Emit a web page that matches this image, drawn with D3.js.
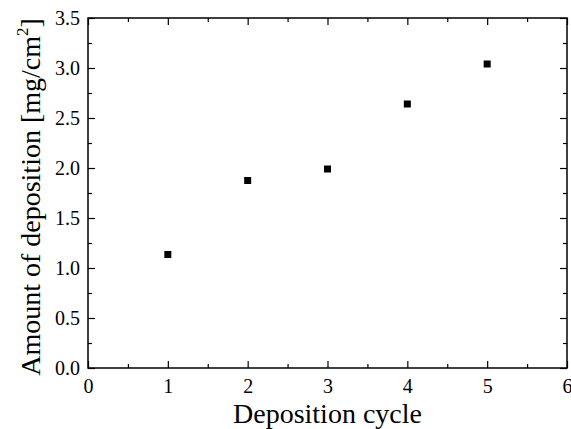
<!DOCTYPE html>
<html>
<head>
<meta charset="utf-8">
<script src="https://cdn.jsdelivr.net/npm/d3@7"></script>
<style>
  html, body { margin: 0; padding: 0; background: #fff; }
  svg, svg text { font-family: "Liberation Serif", "Times New Roman", serif !important; }
</style>
</head>
<body>
<div id="chart"></div>
<script>
// Deposition amount per cycle
const cycles = [1, 2, 3, 4, 5];
const deposition = [1.135, 1.875, 1.99, 2.64, 3.04];
const xTicks = [0, 1, 2, 3, 4, 5, 6];
const yTicks = [0.0, 0.5, 1.0, 1.5, 2.0, 2.5, 3.0, 3.5];

const FONT = '"Liberation Serif", "Times New Roman", serif';
const width = 571, height = 429;
const margin = { top: 18, right: 4, bottom: 61, left: 88 };
const innerW = width - margin.left - margin.right;
const innerH = height - margin.top - margin.bottom;

const svg = d3.select('#chart').append('svg')
  .attr('width', width)
  .attr('height', height)
  .style('font-family', FONT);

const g = svg.append('g').attr('transform', `translate(${margin.left},${margin.top})`);

const x = d3.scaleLinear().domain([0, 6]).range([0, innerW]);
const y = d3.scaleLinear().domain([0, 3.5]).range([innerH, 0]);

// minor ticks halfway between majors
const xMinor = d3.range(0.5, 6, 1);
const yMinor = d3.range(0.25, 3.5, 0.5);

function styleAxis(sel) {
  sel.style('font-family', FONT).style('font-size', '20px');
  sel.select('.domain').remove();
  sel.selectAll('line').attr('stroke', '#000').attr('stroke-width', 1.2);
  sel.selectAll('text')
    .attr('fill', '#000')
    .style('font-family', FONT)
    .style('font-size', '20px');
}

// bottom axis with labels
g.append('g')
  .attr('transform', `translate(0,${innerH})`)
  .call(d3.axisBottom(x).tickValues(xTicks).tickSize(-7).tickPadding(11).tickFormat(d3.format('d')))
  .call(styleAxis);
g.append('g').attr('transform', `translate(0,${innerH})`)
  .call(d3.axisBottom(x).tickValues(xMinor).tickSize(-4).tickFormat(''))
  .call(styleAxis);

// top mirror ticks
g.append('g').call(d3.axisTop(x).tickValues(xTicks).tickSize(-7).tickFormat('')).call(styleAxis);
g.append('g').call(d3.axisTop(x).tickValues(xMinor).tickSize(-4).tickFormat('')).call(styleAxis);

// left axis with labels
g.append('g')
  .call(d3.axisLeft(y).tickValues(yTicks).tickSize(-7).tickPadding(8).tickFormat(d3.format('.1f')))
  .call(styleAxis);
g.append('g').call(d3.axisLeft(y).tickValues(yMinor).tickSize(-4).tickFormat('')).call(styleAxis);

// right mirror ticks
g.append('g').attr('transform', `translate(${innerW},0)`)
  .call(d3.axisRight(y).tickValues(yTicks).tickSize(-7).tickFormat('')).call(styleAxis);
g.append('g').attr('transform', `translate(${innerW},0)`)
  .call(d3.axisRight(y).tickValues(yMinor).tickSize(-4).tickFormat('')).call(styleAxis);

// frame
g.append('rect')
  .attr('width', innerW)
  .attr('height', innerH)
  .attr('fill', 'none')
  .attr('stroke', '#000')
  .attr('stroke-width', 1.5);

// points
const sq = 7;
g.selectAll('rect.pt')
  .data(cycles.map((c, i) => ({ c, v: deposition[i] })))
  .join('rect')
  .attr('class', 'pt')
  .attr('x', d => x(d.c) - sq / 2)
  .attr('y', d => y(d.v) - sq / 2)
  .attr('width', sq)
  .attr('height', sq)
  .attr('fill', '#000');

// axis titles
svg.append('text')
  .attr('x', margin.left + innerW / 2)
  .attr('y', 423)
  .attr('text-anchor', 'middle')
  .style('font-size', '28px')
  .text('Deposition cycle');

const yt = svg.append('text')
  .attr('transform', `translate(40,197) rotate(-90)`)
  .attr('text-anchor', 'middle')
  .style('font-size', '28px');
yt.append('tspan').text('Amount of deposition [mg/cm');
yt.append('tspan').style('font-size', '17px').attr('dy', -12).text('2');
yt.append('tspan').attr('dy', 12).text(']');
</script>
</body>
</html>
